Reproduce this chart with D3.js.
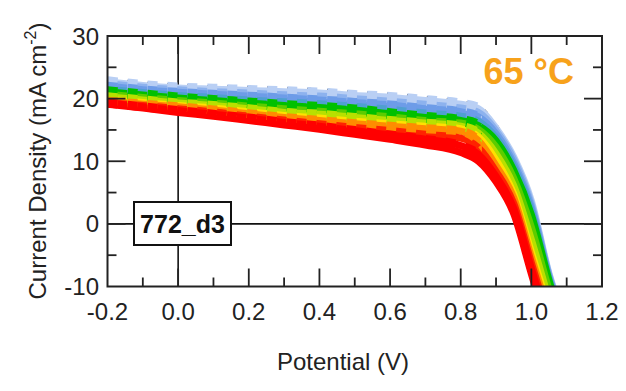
<!DOCTYPE html>
<html><head><meta charset="utf-8">
<script src="https://cdn.jsdelivr.net/npm/d3@7"></script>
<style>
html,body{margin:0;padding:0;background:#fff;}
svg{display:block;font-family:"Liberation Sans",Arial,sans-serif;}
</style></head>
<body><svg id="chart" width="626" height="391"></svg>
<script>
// Potential (V) sample points shared by all scans
const potential = [-0.2,-0.1,0.0,0.1,0.2,0.3,0.4,0.5,0.6,0.7,0.8,0.85,0.9,0.95,1.0,1.05,1.1];
// Current density (mA cm-2) for each scan, red (first) -> blue (last)
const scan01 = [19.1,18.5,17.8,17.2,16.5,15.8,15.1,14.3,13.5,12.6,11.4,10.0,6.7,1.6,-8.0,-17.5,-27];
const scan02 = [19.3,18.7,18.1,17.5,16.9,16.2,15.6,14.9,14.2,13.5,12.5,11.1,7.6,2.5,-7.1,-16.5,-26];
const scan03 = [19.4,18.9,18.4,17.9,17.2,16.6,16.0,15.4,14.9,14.3,13.7,12.2,8.4,3.3,-6.2,-15.5,-25];
const scan04 = [19.6,19.1,18.7,18.2,17.6,17.0,16.5,16.0,15.6,15.2,14.8,13.3,9.3,4.2,-5.3,-14.5,-24];
const scan05 = [19.9,19.4,18.9,18.5,17.9,17.3,16.9,16.4,16.0,15.6,15.2,13.9,10.2,4.8,-4.5,-13.6,-23];
const scan06 = [20.3,19.8,19.3,18.9,18.4,17.8,17.5,17.0,16.5,16.1,15.6,14.5,11.2,6.1,-2.5,-12.1,-21];
const scan07 = [20.7,20.2,19.7,19.3,18.8,18.4,18.0,17.6,17.1,16.5,16.1,15.1,12.3,7.3,-0.5,-10.5,-19];
const scan08 = [21.1,20.6,20.1,19.7,19.3,18.9,18.6,18.2,17.6,17.0,16.5,15.7,13.3,8.6,1.5,-9.0,-18];
const scan09 = [21.5,21.0,20.5,20.2,19.8,19.5,19.2,18.8,18.3,17.7,17.2,16.4,13.8,9.2,2.1,-8.7,-17.5];
const scan10 = [22.0,21.4,21.0,20.7,20.4,20.1,19.8,19.4,19.0,18.4,17.9,17.1,14.4,9.7,2.7,-8.4,-17];
const scan11 = [22.4,21.8,21.4,21.1,20.9,20.6,20.4,20.0,19.6,19.1,18.5,17.8,14.9,10.3,3.2,-8.1,-16.5];
const scan12 = [22.7,22.1,21.7,21.5,21.3,21.1,20.9,20.5,20.2,19.7,19.1,18.4,15.3,10.7,3.7,-7.9,-16];
// dark reference scan, mostly hidden at the top edge of the band
const darkScan = [23.2,22.6,22.2,22.0,21.9,21.7,21.5,21.1,20.8,20.3,19.6,18.9,15.9,11.2,4.2,-7.5,-15.5];
const scans = [scan01,scan02,scan03,scan04,scan05,scan06,scan07,scan08,scan09,scan10,scan11,scan12];
const scanColors = ['#ff0000','#ff0000','#ff2200','#ff8c00','#ffe000','#b8e000','#5ccc00','#00c000','#4fa0d0','#6d9ce8','#8db2ee','#b9cff4'];
const xTicks = [-0.2,0.0,0.2,0.4,0.6,0.8,1.0,1.2];
const xTickLabels = ['-0.2','0.0','0.2','0.4','0.6','0.8','1.0','1.2'];
const yTicks = [-10,0,10,20,30];
const sampleLabel = '772_d3';
const tempLabel = '65 °C';

const svg = d3.select('#chart');
const L = 107.5, R = 602, T = 36, B = 286.5;
const x = d3.scaleLinear().domain([-0.2,1.2]).range([L,R]);
const y = d3.scaleLinear().domain([-10,30]).range([B,T]);

const defs = svg.append('defs');
defs.append('clipPath').attr('id','clip')
  .append('rect').attr('x',L).attr('y',T).attr('width',R-L).attr('height',B-T);
defs.append('clipPath').attr('id','clipFlat')
  .append('rect').attr('x',L).attr('y',T).attr('width',x(0.86)-L).attr('height',B-T);

// zero lines
svg.append('line').attr('x1',x(0)).attr('x2',x(0)).attr('y1',T).attr('y2',B)
  .attr('stroke','#111').attr('stroke-width',1.6);
svg.append('line').attr('x1',L).attr('x2',R).attr('y1',y(0)).attr('y2',y(0))
  .attr('stroke','#111').attr('stroke-width',1.6);

// curves: solid layer, then dashed overlay on alternate scans (plateau only)
const line = d3.line().x((d,i)=>x(potential[i])).y(d=>y(d)).curve(d3.curveMonotoneX);
const g = svg.append('g').attr('clip-path','url(#clip)');
g.append('path').attr('d', line(darkScan)).attr('fill','none')
  .attr('stroke','#444').attr('stroke-width',2).attr('stroke-dasharray','4,16');
for (let k = scans.length-1; k >= 0; k--) {
  g.append('path').attr('d', line(scans[k]))
    .attr('fill','none').attr('stroke',scanColors[k]).attr('stroke-width',7);
}
const gFlat = svg.append('g').attr('clip-path','url(#clipFlat)');
for (let k = scans.length-1; k >= 0; k--) {
  if (k % 2 === 0) continue;
  gFlat.append('path').attr('d', line(scans[k]))
    .attr('fill','none').attr('stroke',scanColors[k])
    .attr('stroke-width', (k === 7 || k === 11) ? 11 : 9)
    .attr('stroke-dasharray','10,10');
}

// frame
svg.append('rect').attr('x',L).attr('y',T).attr('width',R-L).attr('height',B-T)
  .attr('fill','none').attr('stroke','#222').attr('stroke-width',2);

// ticks on all four sides (inward)
const xMinor = d3.range(-0.1,1.2,0.2);
function xt(vals,len){
  vals.forEach(v=>{
    svg.append('line').attr('x1',x(v)).attr('x2',x(v)).attr('y1',B).attr('y2',B-len).attr('stroke','#222').attr('stroke-width',1.8);
    svg.append('line').attr('x1',x(v)).attr('x2',x(v)).attr('y1',T).attr('y2',T+len).attr('stroke','#222').attr('stroke-width',1.8);
  });
}
xt(xTicks.slice(1,-1),18); xt(xMinor,9);
function yt(vals,len){
  vals.forEach(v=>{
    svg.append('line').attr('y1',y(v)).attr('y2',y(v)).attr('x1',L).attr('x2',L+len).attr('stroke','#222').attr('stroke-width',1.8);
    svg.append('line').attr('y1',y(v)).attr('y2',y(v)).attr('x1',R).attr('x2',R-len).attr('stroke','#222').attr('stroke-width',1.8);
  });
}
yt([0,10,20],18); yt([-5,5,15,25],9);

// tick labels
svg.append('g').selectAll('text').data(xTicks).join('text')
  .attr('x',d=>x(d)).attr('y',320).attr('text-anchor','middle')
  .attr('font-size',24).attr('fill','#222').text((d,i)=>xTickLabels[i]);
svg.append('g').selectAll('text').data(yTicks).join('text')
  .attr('x',99).attr('y',d=>y(d)+8.5).attr('text-anchor','end')
  .attr('font-size',24).attr('fill','#222').text(d=>d);

// axis titles
svg.append('text').attr('x',343).attr('y',370).attr('text-anchor','middle')
  .attr('font-size',24).attr('fill','#222').text('Potential (V)');
const yt2 = svg.append('text').attr('transform','translate(46,161) rotate(-90)')
  .attr('text-anchor','middle').attr('font-size',24).attr('fill','#222');
yt2.append('tspan').text('Current Density (mA cm');
yt2.append('tspan').attr('dy',-10).attr('font-size',16).text('-2');
yt2.append('tspan').attr('dy',10).text(')');

// sample label box
svg.append('rect').attr('x',134).attr('y',202).attr('width',97).attr('height',43)
  .attr('fill','#fff').attr('stroke','#111').attr('stroke-width',2);
svg.append('text').attr('x',182.5).attr('y',233).attr('text-anchor','middle')
  .attr('font-size',25).attr('font-weight','bold').attr('fill','#111').text(sampleLabel);

// temperature label
svg.append('text').attr('x',574).attr('y',84).attr('text-anchor','end')
  .attr('font-size',36).attr('font-weight','bold').attr('fill','#f7a21b').text(tempLabel);
</script></body></html>
